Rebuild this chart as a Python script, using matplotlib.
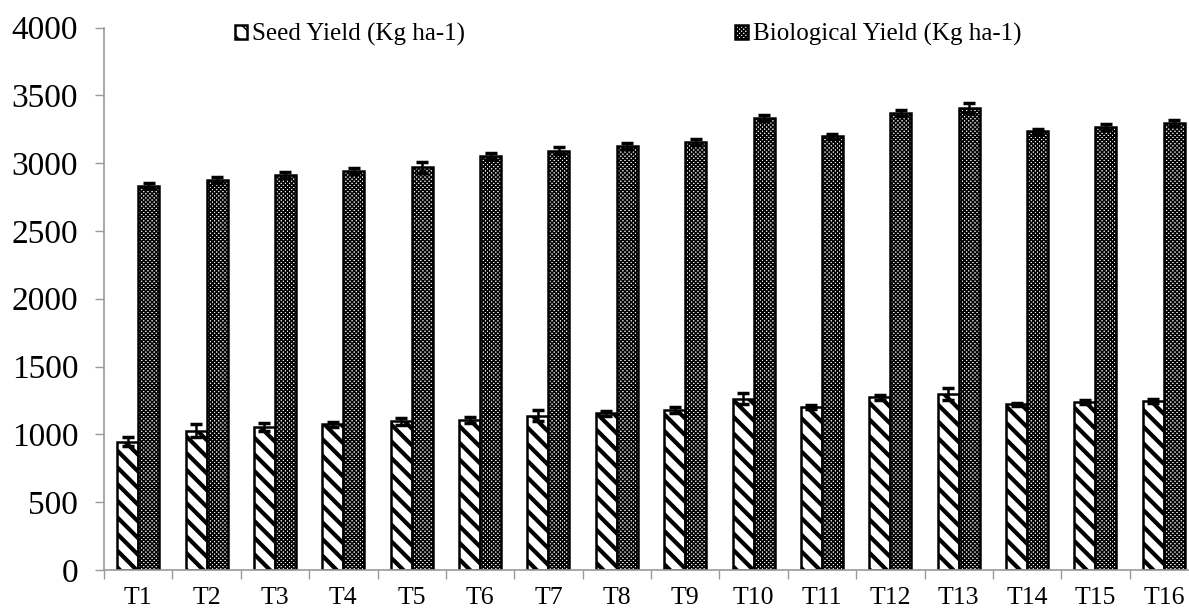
import matplotlib.pyplot as plt
import numpy as np

plt.rcParams['font.family'] = ['Liberation Serif', 'DejaVu Serif']

treatments = ['T1', 'T2', 'T3', 'T4', 'T5', 'T6', 'T7', 'T8',
              'T9', 'T10', 'T11', 'T12', 'T13', 'T14', 'T15', 'T16']
seed_yield = [947, 1028, 1053, 1075, 1095, 1105, 1139, 1156,
              1181, 1262, 1201, 1274, 1297, 1223, 1240, 1247]
seed_err = [30, 45, 30, 17, 25, 20, 40, 20, 20, 40, 15, 20, 45, 12, 15, 12]
bio_yield = [2834, 2873, 2910, 2945, 2969, 3055, 3092, 3127,
             3156, 3336, 3198, 3370, 3405, 3235, 3267, 3297]
bio_err = [20, 22, 22, 22, 40, 22, 25, 22, 22, 22, 20, 22, 38, 20, 20, 20]

fig = plt.figure(figsize=(11.89, 6.15), dpi=100)
ax = fig.add_axes([104/1189, 45/615, 1094/1189, 542.5/615])

x = np.arange(len(treatments))
w = 0.307

# thick diagonal stripes for seed yield, fine checker for biological yield
plt.rcParams['hatch.linewidth'] = 3.0
b1 = ax.bar(x - w/2, seed_yield, w, color='white', edgecolor='black',
            linewidth=1.8, hatch='\\\\', label='Seed Yield (Kg ha-1)')
plt.rcParams['hatch.linewidth'] = 1.1
b2 = ax.bar(x + w/2, bio_yield, w, color='white', edgecolor='black',
            linewidth=1.8, hatch='xxxxxxxx', label='Biological Yield (Kg ha-1)')

ax.errorbar(x - w/2, seed_yield, yerr=seed_err, fmt='none', ecolor='black',
            elinewidth=1.8, capsize=4, capthick=2.5)
ax.errorbar(x + w/2, bio_yield, yerr=bio_err, fmt='none', ecolor='black',
            elinewidth=1.8, capsize=4, capthick=2.5)

ax.set_ylim(0, 4000)
ax.set_xlim(-0.5, len(treatments) - 0.5)
ax.set_yticks(range(0, 4001, 500))
ax.set_xticks(np.arange(-0.5, len(treatments)), minor=False)
ax.set_xticklabels([])
ax.set_xticks(x, minor=True)
ax.set_xticklabels(treatments, minor=True)
ax.tick_params(axis='x', which='minor', length=0, labelsize=18.5, pad=12)
ax.tick_params(axis='x', which='major', length=6.5, color='#999999', width=1)
ax.tick_params(axis='y', length=6.5, color='#999999', width=1, labelsize=24, pad=12)

for s in ['top', 'right']:
    ax.spines[s].set_visible(False)
for s in ['left', 'bottom']:
    ax.spines[s].set_color('#999999')
    ax.spines[s].set_linewidth(1.2)

fig.legend(handles=[b1, b2], loc='center', bbox_to_anchor=(0.528, 0.944),
           ncol=2, frameon=False, fontsize=18, handlelength=0.5,
           handleheight=0.5, handletextpad=0.2, columnspacing=10.8)

plt.savefig('out.png', dpi=100)
